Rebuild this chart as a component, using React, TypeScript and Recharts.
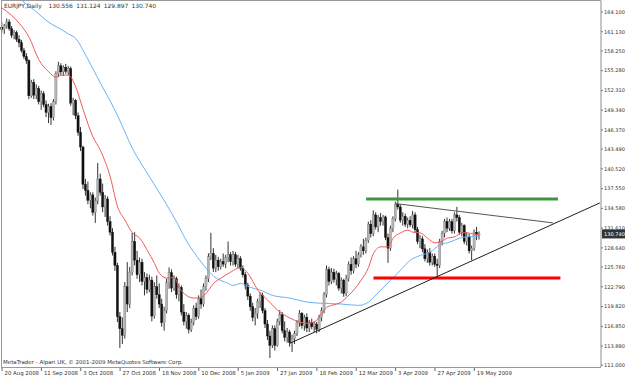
import React from 'react';
import { ComposedChart, Bar, Line, XAxis, YAxis, ReferenceLine } from 'recharts';

// EURJPY daily, bar 0 = 20 Aug 2008 ... bar 194 = 21 May 2009
const dateLabels = [
  '20 Aug 2008', '11 Sep 2008', '3 Oct 2008', '27 Oct 2008', '18 Nov 2008', '10 Dec 2008', '5 Jan 2009',
  '27 Jan 2009', '18 Feb 2009', '12 Mar 2009', '3 Apr 2009', '27 Apr 2009', '19 May 2009',
];
const dateLabelBars = [0, 16, 32, 48, 64, 80, 96, 112, 128, 144, 160, 176, 192];

const priceTicks = [
  164.1, 161.13, 158.25, 155.28, 152.31, 149.34, 146.37, 143.49, 140.52, 137.55,
  134.58, 131.61, 128.64, 125.76, 122.79, 119.82, 116.85, 113.88, 111.0,
];

// [open, high, low, close]
const ohlc: [number, number, number, number][] = [
  [161.8, 162.6, 161.0, 161.5], [161.5, 162.3, 160.8, 162.0], [162.0, 163.1, 161.6, 162.6], [162.6, 163.0, 161.3, 161.6],
  [161.6, 162.0, 160.2, 160.6], [160.6, 161.4, 160.0, 161.0], [161.0, 161.3, 159.6, 160.0], [160.0, 160.6, 158.8, 159.5],
  [159.5, 159.9, 158.0, 158.3], [158.3, 158.7, 157.0, 157.4], [157.4, 157.9, 156.3, 156.8], [156.8, 157.0, 151.0, 151.5],
  [151.5, 153.9, 151.2, 153.5], [153.5, 154.0, 151.0, 151.6], [151.6, 153.2, 151.0, 152.6], [152.6, 153.0, 150.2, 150.6],
  [150.6, 152.3, 149.4, 151.8], [151.8, 152.2, 149.8, 150.2], [150.2, 150.8, 148.3, 149.0], [149.0, 150.3, 147.4, 149.9],
  [149.9, 150.4, 147.1, 148.2], [148.2, 151.0, 147.8, 150.6], [150.6, 155.2, 150.2, 154.8], [154.8, 156.6, 154.3, 156.0],
  [156.0, 156.4, 154.6, 155.1], [155.1, 156.1, 154.5, 155.8], [155.8, 156.3, 154.8, 155.2], [155.2, 156.0, 154.6, 155.6],
  [155.6, 155.9, 150.0, 150.4], [150.4, 151.2, 148.6, 150.8], [150.8, 151.0, 148.0, 148.5], [148.5, 149.0, 145.5, 146.0],
  [146.0, 146.8, 143.2, 143.8], [143.8, 144.0, 137.5, 138.2], [138.2, 139.0, 136.5, 137.3], [137.3, 138.6, 135.2, 135.8],
  [135.8, 137.0, 134.6, 136.6], [136.6, 137.0, 133.5, 134.0], [134.0, 136.2, 132.4, 135.7], [135.7, 141.4, 135.2, 139.0],
  [139.0, 139.8, 136.5, 137.0], [137.0, 138.3, 134.0, 134.8], [134.8, 136.6, 133.3, 136.0], [136.0, 136.4, 132.0, 132.6],
  [132.6, 133.4, 130.5, 131.0], [131.0, 131.6, 127.5, 128.0], [128.0, 128.8, 125.2, 126.0], [126.0, 126.4, 117.5, 118.3],
  [118.3, 119.0, 113.6, 116.5], [116.5, 118.2, 114.2, 115.5], [115.5, 123.5, 115.0, 122.8], [122.8, 126.5, 119.0, 120.2],
  [120.2, 125.8, 119.6, 125.0], [125.0, 130.9, 124.5, 129.6], [129.6, 131.0, 126.0, 126.8], [126.8, 128.2, 124.0, 124.6],
  [124.6, 127.2, 123.5, 126.5], [126.5, 127.0, 123.0, 123.6], [123.6, 125.0, 121.5, 124.2], [124.2, 124.8, 121.8, 122.4],
  [122.4, 124.6, 122.0, 123.8], [123.8, 124.3, 117.6, 118.4], [118.4, 123.5, 118.0, 122.8], [122.8, 124.5, 121.0, 121.6],
  [121.6, 123.3, 119.6, 120.2], [120.2, 121.0, 116.8, 117.4], [117.4, 119.8, 116.2, 119.2], [119.2, 124.0, 118.8, 123.4],
  [123.4, 125.7, 122.5, 124.9], [124.9, 125.4, 122.0, 122.6], [122.6, 124.5, 122.2, 124.0], [124.0, 124.3, 121.0, 121.6],
  [121.6, 123.3, 120.6, 122.7], [122.7, 123.0, 118.5, 119.0], [119.0, 120.2, 117.0, 117.6], [117.6, 119.0, 116.5, 118.5],
  [118.5, 118.8, 115.8, 116.4], [116.4, 118.0, 116.0, 117.4], [117.4, 120.0, 117.0, 119.6], [119.6, 120.4, 117.8, 118.3],
  [118.3, 121.5, 118.0, 121.0], [121.0, 122.4, 119.5, 120.2], [120.2, 123.3, 119.8, 122.8], [122.8, 124.5, 122.2, 124.0],
  [124.0, 127.8, 123.5, 127.3], [127.3, 130.9, 126.8, 127.8], [127.8, 128.6, 125.0, 125.6], [125.6, 127.6, 125.0, 126.8],
  [126.8, 127.3, 125.2, 125.8], [125.8, 127.0, 125.4, 126.6], [126.6, 127.8, 125.8, 126.2], [126.2, 127.6, 125.6, 127.2],
  [127.2, 129.6, 126.5, 127.6], [127.6, 128.0, 126.0, 126.6], [126.6, 128.2, 126.0, 127.6], [127.6, 128.0, 125.8, 126.2],
  [126.2, 127.6, 125.6, 127.0], [127.0, 127.4, 125.2, 125.6], [125.6, 126.0, 124.2, 124.6], [124.6, 125.0, 122.4, 123.0],
  [123.0, 123.4, 120.8, 121.4], [121.4, 121.8, 119.2, 119.8], [119.8, 120.4, 117.6, 118.2], [118.2, 119.6, 117.0, 118.8],
  [118.8, 121.0, 118.0, 120.6], [120.6, 122.0, 119.6, 121.5], [121.5, 121.9, 118.8, 119.2], [119.2, 119.6, 116.6, 117.2],
  [117.2, 117.8, 114.8, 115.4], [115.4, 116.2, 112.1, 114.0], [114.0, 117.0, 113.6, 116.5], [116.5, 117.0, 113.2, 114.0],
  [114.0, 118.0, 113.8, 117.6], [117.6, 119.3, 117.0, 118.6], [118.6, 119.0, 115.8, 116.2], [116.2, 117.6, 114.6, 115.2],
  [115.2, 116.6, 114.4, 116.0], [116.0, 116.3, 113.8, 114.4], [114.4, 115.6, 113.0, 115.0], [115.0, 116.2, 114.2, 115.8],
  [115.8, 117.8, 115.4, 117.4], [117.4, 119.3, 116.8, 118.8], [118.8, 119.0, 116.5, 117.0], [117.0, 118.6, 116.2, 118.2],
  [118.2, 118.8, 116.0, 116.6], [116.6, 117.8, 116.0, 117.4], [117.4, 118.0, 116.4, 116.8], [116.8, 117.6, 116.0, 117.2],
  [117.2, 117.5, 115.8, 116.4], [116.4, 118.6, 116.0, 118.2], [118.2, 119.7, 117.6, 119.2], [119.2, 122.0, 118.8, 121.6],
  [121.6, 126.0, 121.2, 125.4], [125.4, 125.8, 123.0, 123.6], [123.6, 125.6, 123.2, 125.0], [125.0, 125.5, 123.4, 123.9],
  [123.9, 125.2, 123.0, 124.8], [124.8, 125.0, 122.2, 122.6], [122.6, 124.2, 121.8, 123.8], [123.8, 124.0, 121.3, 121.8],
  [121.8, 124.6, 121.4, 124.0], [124.0, 126.6, 123.6, 126.2], [126.2, 127.2, 124.6, 125.2], [125.2, 127.4, 124.8, 127.0],
  [127.0, 128.2, 125.6, 126.2], [126.2, 128.0, 125.8, 127.6], [127.6, 129.2, 127.2, 128.8], [128.8, 130.0, 127.6, 128.2],
  [128.2, 130.2, 127.8, 129.8], [129.8, 132.6, 129.4, 132.2], [132.2, 132.8, 130.2, 130.8], [130.8, 134.3, 130.4, 133.6],
  [133.6, 134.0, 131.4, 131.8], [131.8, 133.6, 131.0, 133.2], [133.2, 133.9, 132.0, 132.6], [132.6, 133.6, 132.0, 133.3],
  [133.3, 133.5, 129.8, 130.2], [130.2, 130.8, 126.4, 128.6], [128.6, 132.0, 128.2, 131.6], [131.6, 133.4, 131.0, 133.0],
  [133.0, 135.6, 132.6, 135.2], [135.2, 137.4, 134.4, 134.8], [134.8, 135.2, 132.4, 132.8], [132.8, 134.0, 132.0, 133.4],
  [133.4, 133.8, 131.8, 132.2], [132.2, 133.2, 131.6, 132.8], [132.8, 133.4, 131.8, 132.1], [132.1, 134.2, 131.6, 133.6],
  [133.6, 134.0, 131.0, 131.4], [131.4, 131.8, 129.2, 129.6], [129.6, 130.6, 128.6, 130.0], [130.0, 130.4, 128.0, 128.5],
  [128.5, 129.2, 126.6, 127.0], [127.0, 128.4, 126.4, 128.0], [128.0, 128.6, 126.0, 126.5], [126.5, 127.8, 126.0, 127.4],
  [127.4, 127.8, 125.8, 126.2], [126.2, 127.0, 124.2, 126.0], [126.0, 130.0, 125.6, 129.6], [129.6, 131.2, 129.0, 130.8],
  [130.8, 133.0, 130.2, 132.6], [132.6, 133.2, 131.0, 131.6], [131.6, 133.0, 131.2, 132.6], [132.6, 133.0, 130.8, 131.2],
  [131.2, 134.0, 130.8, 133.6], [133.6, 134.8, 132.6, 133.2], [133.2, 133.6, 130.6, 131.0], [131.0, 132.4, 130.4, 132.0],
  [132.0, 132.2, 129.2, 129.6], [129.6, 131.0, 129.0, 130.4], [130.4, 130.8, 127.8, 128.2], [128.2, 129.0, 126.8, 128.6],
  [128.6, 131.4, 128.2, 131.0], [131.0, 131.8, 129.8, 130.6], [130.556, 131.124, 129.897, 130.74],
];

// moving averages: [bar, price]
const fastMa: [number, number][] = [
  [0, 164.7], [7, 162.4], [11, 160.3], [15, 156.9], [19, 155.1], [22, 154.3], [24, 154.6], [27, 154.6],
  [30, 152.8], [33, 149.4], [37, 145.3], [40, 143.3], [44, 139.3], [47, 134.8], [50, 132.8], [53, 130.9],
  [56, 130.1], [59, 128.3], [62, 126.3], [64, 124.8], [67, 124.1], [70, 124.2], [72, 122.7], [75, 121.5],
  [78, 121.1], [81, 121.2], [84, 122.3], [86, 123.3], [89, 124.1], [93, 125.0], [97, 125.7], [100, 124.8],
  [104, 122.3], [108, 120.8], [112, 119.3], [117, 118.1], [121, 117.5], [124, 117.3], [127, 117.5], [130, 118.8],
  [132, 119.7], [134, 120.0], [138, 120.5], [140, 121.2], [143, 122.3], [146, 123.8], [149, 125.7], [151, 127.8],
  [154, 128.8], [157, 128.8], [159, 130.1], [162, 130.9], [165, 131.3], [167, 131.0], [170, 130.9], [173, 130.1],
  [176, 129.4], [178, 129.5], [181, 130.1], [184, 130.3], [187, 130.9], [189, 130.9], [192, 130.7], [194, 130.6],
];
const slowMa: [number, number][] = [
  [0, 168.2], [6, 166.4], [13, 164.4], [20, 162.3], [24, 161.5], [27, 160.8], [30, 160.1], [34, 157.6],
  [40, 153.4], [44, 150.7], [47, 148.5], [53, 143.6], [60, 139.3], [67, 135.1], [71, 132.5], [75, 129.7],
  [81, 126.5], [86, 124.4], [92, 123.3], [94, 123.0], [97, 123.3], [101, 122.7], [105, 122.3], [110, 121.5],
  [117, 121.1], [124, 120.5], [131, 120.3], [138, 120.2], [145, 120.0], [149, 120.5], [151, 121.2], [154, 122.3],
  [158, 123.8], [162, 125.3], [166, 126.8], [170, 127.5], [174, 128.0], [178, 129.1], [182, 129.5], [186, 130.1],
  [189, 130.3], [192, 130.4], [194, 130.4],
];

// drawn objects: [fromBar, fromPrice, toBar, toPrice]
const resistanceLine = [148, 136.0, 226, 136.0];
const supportLine = [151, 124.1, 227, 124.1];
const upperTrend = [160, 135.3, 224, 132.4];
const lowerTrend = [117, 114.3, 243, 135.4];

const lastPrice = 130.74;
const headerValues = ['130.556', '131.124', '129.897', '130.740'];
const TOTAL_SLOTS = 244; // includes empty chart shift on the right

const fastMap = new Map(fastMa);
const slowMap = new Map(slowMa);
const data = Array.from({ length: TOTAL_SLOTS }, (_, i) => {
  const b = ohlc[i];
  return {
    i,
    range: b ? [b[2], b[1]] : null,
    o: b ? b[0] : null,
    h: b ? b[1] : null,
    l: b ? b[2] : null,
    c: b ? b[3] : null,
    fast: fastMap.has(i) ? fastMap.get(i) : null,
    slow: slowMap.has(i) ? slowMap.get(i) : null,
  };
});

const FONT = '"DejaVu Sans", Verdana, sans-serif';

function Candle(props: any) {
  const { x, y, width, height, payload } = props;
  if (!payload || payload.o == null) return null;
  const { o, h, l, c } = payload;
  const top = Math.min(y, y + height);
  const span = Math.abs(height);
  const k = h - l > 0 ? span / (h - l) : 0;
  const cx = x + width / 2;
  const yo = top + (h - o) * k;
  const yc = top + (h - c) * k;
  const bull = c >= o;
  const bTop = Math.min(yo, yc);
  const bH = Math.max(Math.abs(yc - yo), 1);
  return (
    <g>
      <line x1={cx} y1={top} x2={cx} y2={top + span} stroke="#333" strokeWidth={1} />
      <rect
        x={cx - 1.1}
        y={bTop}
        width={2.2}
        height={bH}
        fill={bull ? '#b4b4b4' : '#111'}
        stroke={bull ? '#7a7a7a' : '#111'}
        strokeWidth={0.35}
      />
    </g>
  );
}

function DateTick(props: any) {
  const { x, y, payload } = props;
  const k = dateLabelBars.indexOf(payload.value);
  if (k < 0) return null;
  return (
    <g>
      <line x1={x} y1={y} x2={x} y2={y + 4} stroke="#666" strokeWidth={1} />
      <text x={x + 2.5} y={y + 8.3} fontSize={5.4} fill="#333" fontFamily={FONT}>
        {dateLabels[k]}
      </text>
    </g>
  );
}

function PriceTick(props: any) {
  const { x, y, payload } = props;
  return (
    <text x={x} y={y + 1.8} fontSize={5.1} fill="#333" fontFamily={FONT}>
      {Number(payload.value).toFixed(3)}
    </text>
  );
}

function PriceTag(props: any) {
  const { viewBox } = props;
  if (!viewBox) return null;
  const x = viewBox.x + viewBox.width + 1;
  const y = viewBox.y;
  return (
    <g>
      <rect x={x} y={y - 4.5} width={23} height={9} fill="#333" />
      <text x={x + 2} y={y + 1.9} fontSize={5.1} fill="#fff" fontFamily={FONT}>
        {lastPrice.toFixed(3)}
      </text>
    </g>
  );
}

function seg(s: number[]) {
  return [
    { x: s[0], y: s[1] },
    { x: s[2], y: s[3] },
  ];
}

export default function App() {
  return (
    <div style={{ position: 'absolute', left: 0, top: 0, width: 625, height: 378, background: '#fff', overflow: 'hidden' }}>
      <ComposedChart
        width={625}
        height={378}
        data={data}
        margin={{ top: 1, right: 0, bottom: 0, left: 0.8 }}
        barCategoryGap={0}
      >
        <XAxis
          dataKey="i"
          type="category"
          ticks={dateLabelBars}
          interval={0}
          height={11}
          tickSize={0}
          tickMargin={0}
          tickLine={false}
          axisLine={false}
          tick={<DateTick />}
        />
        <YAxis
          orientation="right"
          width={24}
          type="number"
          domain={[110.74, 165.75]}
          allowDataOverflow
          ticks={priceTicks}
          interval={0}
          tickSize={2}
          tickMargin={1}
          tickLine={{ stroke: '#777' }}
          axisLine={{ stroke: '#8c8c8c' }}
          tick={<PriceTick />}
        />
        <Bar dataKey="range" shape={<Candle />} isAnimationActive={false} />
        <Line
          dataKey="slow"
          type="monotone"
          stroke="#6cb2f5"
          strokeWidth={1}
          dot={false}
          connectNulls
          isAnimationActive={false}
        />
        <Line
          dataKey="fast"
          type="monotone"
          stroke="#f25a5a"
          strokeWidth={1}
          dot={false}
          connectNulls
          isAnimationActive={false}
        />
        <ReferenceLine segment={seg(resistanceLine)} stroke="#3c963c" strokeWidth={3} />
        <ReferenceLine segment={seg(supportLine)} stroke="#ff0000" strokeWidth={3} />
        <ReferenceLine segment={seg(upperTrend)} stroke="#555" strokeWidth={1} />
        <ReferenceLine segment={seg(lowerTrend)} stroke="#1e1e1e" strokeWidth={1} />
        <ReferenceLine y={lastPrice} stroke="none" label={<PriceTag />} />
      </ComposedChart>
      <div
        style={{
          position: 'absolute',
          left: 1,
          top: 0,
          width: 600,
          height: 368,
          boxSizing: 'border-box',
          borderLeft: '1px solid #999',
          borderTop: '1px solid #999',
          borderBottom: '1px solid #999',
          pointerEvents: 'none',
        }}
      />
      <div
        style={{
          position: 'absolute',
          left: 4,
          top: 3,
          fontFamily: FONT,
          fontSize: 5.9,
          lineHeight: '7px',
          color: '#333',
          whiteSpace: 'pre',
          wordSpacing: 1.5,
        }}
      >
        {'EURJPY,Daily  ' + headerValues.join(' ')}
      </div>
      <div
        style={{
          position: 'absolute',
          left: 3,
          top: 359,
          fontFamily: FONT,
          fontSize: 5.5,
          lineHeight: '7px',
          color: '#333',
          whiteSpace: 'pre',
        }}
      >
        {'MetaTrader - Alpari UK, \u00a9 2001-2009 MetaQuotes Software Corp.'}
      </div>
    </div>
  );
}
